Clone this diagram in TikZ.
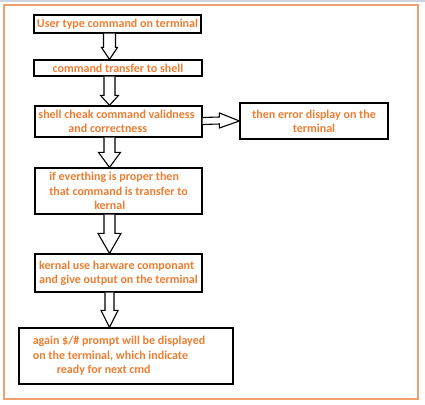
\documentclass[tikz,border=0pt]{standalone}
\usepackage{fontspec}
\setmainfont{Carlito}
\usetikzlibrary{calc}
\definecolor{txtorange}{RGB}{237,125,49}
\definecolor{frameorange}{RGB}{240,160,110}
\definecolor{topgray}{RGB}{205,212,222}
\tikzstyle{stepbox}=[draw,line width=1.2pt,rectangle,inner sep=0pt,align=left,font=\bfseries\fontsize{12}{14.3}\selectfont,text=txtorange]
\tikzstyle{blockarrow}=[draw,line width=1.1pt,fill=white,line join=miter]
% hollow arrow: source, target, shaft half width, head half width, head length
\newcommand{\hollowdown}[5]{%
  \path[blockarrow] ($(#1.south -| ax)+(-#3,0)$) -- ($(#2.north -| ax)+(-#3,-#5)$)
    -- ($(#2.north -| ax)+(-#4,-#5)$) -- (#2.north -| ax) -- ($(#2.north -| ax)+(#4,-#5)$)
    -- ($(#2.north -| ax)+(#3,-#5)$) -- ($(#1.south -| ax)+(#3,0)$);}

\begin{document}
\begin{tikzpicture}[x=1pt,y=-1pt]
    \useasboundingbox (0,0) rectangle (425,404);
    \fill[topgray] (0,0) rectangle (425,2);
    \draw[frameorange,line width=1.3pt] (4,5) rectangle (418,399);
    % the boxes
    \node[stepbox,minimum width=167pt,minimum height=18pt] (user) at (117.5,24) {User type command on terminal};
    \node[stepbox,minimum width=168pt,minimum height=16pt] (shell) at (118,68) {command transfer to shell};
    \node[stepbox,minimum width=167pt,minimum height=31pt] (check) at (118.5,121.5) {shell cheak command validness\hspace*{4pt}\\\hspace*{30pt}and correctness};
    \node[stepbox,minimum width=148pt,minimum height=36pt,align=center] (error) at (314,121) {then error display on the\\terminal};
    \node[stepbox,minimum width=167pt,minimum height=46pt] (kernal) at (118.5,191) {if everthing is proper then\\that command is transfer to\hspace*{9pt}\\\hspace*{45pt}kernal};
    \node[stepbox,minimum width=167pt,minimum height=38pt] (output) at (118.5,273) {kernal use harware componant\\and give output on the terminal};
    \node[stepbox,minimum width=214pt,minimum height=56pt] (prompt) at (126,356) {again \$/\# prompt will be displayed\hspace*{14pt}\\on the terminal, which indicate\\\hspace*{24pt}ready for next cmd};
    % the hollow arrows
    \coordinate (ax) at (109.5,0);
    \hollowdown{user}{shell}{6}{8}{12}
    \hollowdown{shell}{check}{5.5}{9}{10}
    \hollowdown{check}{kernal}{5.5}{11}{15}
    \hollowdown{kernal}{output}{5.5}{11.5}{20}
    \hollowdown{output}{prompt}{4.5}{8.5}{17}
    \path[blockarrow] ($(check.east)+(0,-4)$) -- ($(error.west)+(-20,-4)$) -- ($(error.west)+(-20,-8)$)
      -- (error.west) -- ($(error.west)+(-20,7)$) -- ($(error.west)+(-20,3)$) -- ($(check.east)+(0,3)$);
\end{tikzpicture}
\end{document}
